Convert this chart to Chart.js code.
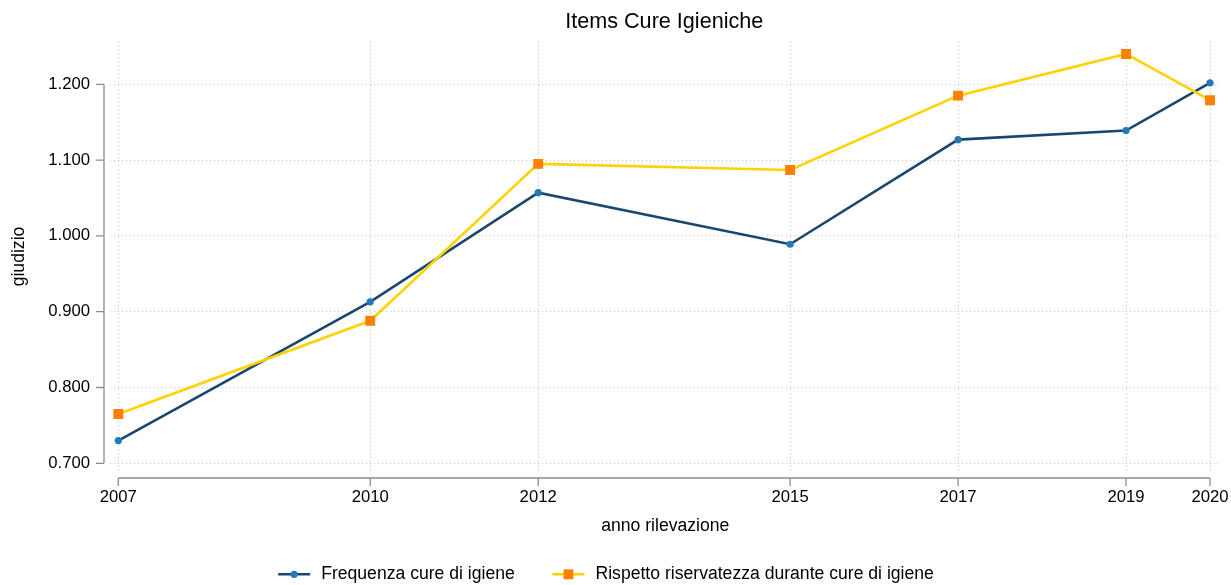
<!DOCTYPE html>
<html lang="it">
<head>
<meta charset="utf-8">
<title>Items Cure Igieniche</title>
<script src="https://cdn.jsdelivr.net/npm/chart.js@4/dist/chart.umd.min.js"></script>
<style>
  html, body { margin: 0; padding: 0; background: #ffffff; }
  #wrap { width: 1231px; height: 585px; }
</style>
</head>
<body>
<div id="wrap"><canvas id="chart" width="1231" height="585"></canvas></div>
<script>
// Survey years and the two hygiene-care items (mean scores)
const anni = [2007, 2010, 2012, 2015, 2017, 2019, 2020];
const frequenzaCure = [0.730, 0.913, 1.057, 0.989, 1.127, 1.139, 1.202];
const rispettoRiservatezza = [0.765, 0.888, 1.095, 1.087, 1.185, 1.240, 1.179];

// Tick values shown on the axes
const xTickValues = [2007, 2010, 2012, 2015, 2017, 2019, 2020];
const yTickValues = [0.7, 0.8, 0.9, 1.0, 1.1, 1.2];

const seriesNames = ['Frequenza cure di igiene', 'Rispetto riservatezza durante cure di igiene'];

const FONT = "'Liberation Sans', Arial, Helvetica, sans-serif";
const AXIS_GREY = '#8c8c8c';
const GRID_GREY = '#c4c4c4';

const toPoints = (xs, ys) => xs.map((x, i) => ({ x: x, y: ys[i] }));

// Stata-style axes: the axis line only spans the first..last tick, set off from the plot region
const axisLines = {
  id: 'axisLines',
  afterDraw(chart) {
    const { ctx, scales: { x, y } } = chart;
    ctx.save();
    ctx.strokeStyle = AXIS_GREY;
    ctx.lineWidth = 1.3;
    const ax = y.right - 6;
    const yTop = y.getPixelForValue(yTickValues[yTickValues.length - 1]);
    const yBot = y.getPixelForValue(yTickValues[0]);
    ctx.beginPath();
    ctx.moveTo(ax, yTop); ctx.lineTo(ax, yBot);
    yTickValues.forEach(v => {
      const p = y.getPixelForValue(v);
      ctx.moveTo(ax - 8, p); ctx.lineTo(ax, p);
    });
    const ay = x.top + 6;
    const xL = x.getPixelForValue(xTickValues[0]);
    const xR = x.getPixelForValue(xTickValues[xTickValues.length - 1]);
    ctx.moveTo(xL, ay); ctx.lineTo(xR, ay);
    xTickValues.forEach(v => {
      const p = x.getPixelForValue(v);
      ctx.moveTo(p, ay); ctx.lineTo(p, ay + 8);
    });
    ctx.stroke();
    ctx.restore();
  }
};

// Title centred over the plot region
const plotTitle = {
  id: 'plotTitle',
  afterDraw(chart) {
    const { ctx, chartArea } = chart;
    ctx.save();
    ctx.font = '21.6px ' + FONT;
    ctx.fillStyle = '#000000';
    ctx.textAlign = 'center';
    ctx.textBaseline = 'alphabetic';
    ctx.fillText('Items Cure Igieniche', (chartArea.left + chartArea.right) / 2 - 1, 28.3);
    ctx.restore();
  }
};

// Legend with line + marker keys, in one row below the x-axis title
const lineLegend = {
  id: 'lineLegend',
  afterDraw(chart) {
    const { ctx } = chart;
    const keyW = 32, gapKey = 11, gapItem = 37.7, cy = 574.3, centre = 606;
    ctx.save();
    ctx.font = '17.6px ' + FONT;
    const items = chart.data.datasets.map(ds => ({ ds, w: ctx.measureText(ds.label).width }));
    const total = items.reduce((s, it) => s + keyW + gapKey + it.w, 0) + gapItem * (items.length - 1);
    let xPos = centre - total / 2;
    items.forEach(({ ds, w }) => {
      const mid = xPos + keyW / 2;
      ctx.strokeStyle = ds.borderColor;
      ctx.lineWidth = ds.borderWidth;
      ctx.beginPath();
      ctx.moveTo(xPos, cy); ctx.lineTo(xPos + keyW, cy);
      ctx.stroke();
      ctx.fillStyle = ds.pointBackgroundColor;
      ctx.beginPath();
      if (ds.pointStyle === 'rect') {
        const s = Math.SQRT1_2 * ds.pointRadius;
        ctx.rect(mid - s, cy - s, 2 * s, 2 * s);
      } else {
        ctx.arc(mid, cy, ds.pointRadius, 0, Math.PI * 2);
      }
      ctx.fill();
      ctx.fillStyle = '#000000';
      ctx.textAlign = 'left';
      ctx.textBaseline = 'middle';
      ctx.fillText(ds.label, xPos + keyW + gapKey, cy);
      xPos += keyW + gapKey + w + gapItem;
    });
    ctx.restore();
  }
};

new Chart(document.getElementById('chart'), {
  type: 'line',
  data: {
    datasets: [
      {
        label: seriesNames[0],
        data: toPoints(anni, frequenzaCure),
        borderColor: '#1a476f',
        borderWidth: 2.6,
        pointStyle: 'circle',
        pointRadius: 3.6,
        pointBackgroundColor: '#2378b5',
        pointBorderWidth: 0,
        order: 1
      },
      {
        label: seriesNames[1],
        data: toPoints(anni, rispettoRiservatezza),
        borderColor: '#ffd200',
        borderWidth: 2.6,
        pointStyle: 'rect',
        pointRadius: 7,
        pointBackgroundColor: '#ff7f00',
        pointBorderWidth: 0,
        order: 0
      }
    ]
  },
  options: {
    responsive: false,
    animation: false,
    devicePixelRatio: 1,
    layout: { padding: { top: 41, right: 10.5, bottom: 48, left: 0 } },
    plugins: {
      legend: { display: false },
      title: { display: false },
      tooltip: { enabled: false }
    },
    elements: { line: { tension: 0 } },
    scales: {
      x: {
        type: 'linear',
        min: 2006.9012,
        max: 2020.125,
        afterBuildTicks: s => { s.ticks = xTickValues.map(v => ({ value: v })); },
        afterFit: s => { s.height = 65; s.paddingLeft = 0; s.paddingRight = 0; },
        ticks: {
          callback: v => String(v),
          color: '#000000',
          font: { family: FONT, size: 16.7 },
          padding: 15.5,
          maxRotation: 0,
          autoSkip: false
        },
        grid: { color: GRID_GREY, lineWidth: 1, drawTicks: false },
        border: { display: false, dash: [1, 3] },
        title: {
          display: true,
          text: 'anno rilevazione',
          color: '#000000',
          font: { family: FONT, size: 17.6 },
          padding: { top: 0, bottom: 0 }
        }
      },
      y: {
        type: 'linear',
        min: 0.68852,
        max: 1.25712,
        afterBuildTicks: s => { s.ticks = yTickValues.map(v => ({ value: v })); },
        afterFit: s => { s.width = 110; s.paddingTop = 0; s.paddingBottom = 0; },
        ticks: {
          callback: v => Number(v).toFixed(3),
          color: '#000000',
          font: { family: FONT, size: 16.7 },
          padding: 20,
          autoSkip: false
        },
        grid: { color: GRID_GREY, lineWidth: 1, drawTicks: false },
        border: { display: false, dash: [1, 3] },
        title: {
          display: true,
          text: 'giudizio',
          color: '#000000',
          font: { family: FONT, size: 17.6 },
          padding: { top: 9, bottom: 0 }
        }
      }
    }
  },
  plugins: [axisLines, plotTitle, lineLegend]
});
</script>
</body>
</html>
